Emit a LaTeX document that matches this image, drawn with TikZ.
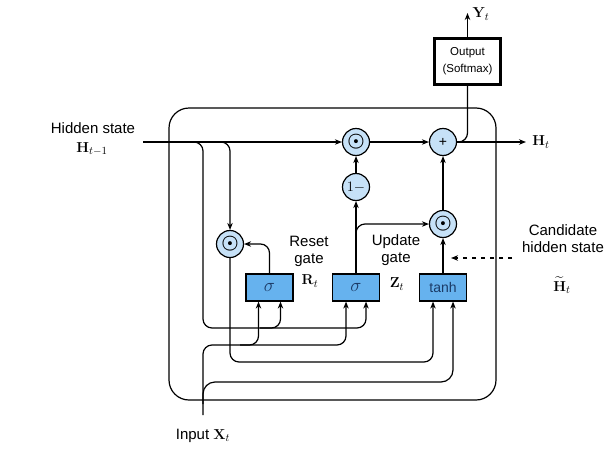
\documentclass[tikz,border=0pt]{standalone}
\usepackage{amsmath,amssymb}
\usepackage{graphicx}
\usepackage[no-math]{fontspec}
\setmainfont{Liberation Sans}
\usepackage{tikz}
\usetikzlibrary{arrows.meta,calc,positioning}
\definecolor{gatefill}{HTML}{66B2EE}
\definecolor{opfill}{HTML}{C6E1F7}
\definecolor{gatetext}{HTML}{1B3A66}
\newcommand{\dotop}{\scalebox{1.35}{$\boldsymbol{\odot}$}}
\newcommand{\sig}{\scalebox{1.3}{$\sigma$}}

\begin{document}
\begin{tikzpicture}[x=1pt, y=-1pt, line width=1.2pt,
  >={Stealth[length=7pt,width=5.5pt]},
  gatebox/.style={rectangle, draw, fill=gatefill, minimum width=47pt, minimum height=27pt, inner sep=0pt, font=\fontsize{14}{16}\selectfont, text=gatetext},
  opcirc/.style={circle, draw, fill=opfill, minimum size=27pt, inner sep=0pt, font=\fontsize{14}{16}\selectfont},
  lbl/.style={font=\fontsize{15}{17}\selectfont, align=center},
  vec/.style={font=\fontsize{15}{17}\selectfont}]
  \useasboundingbox (0,0) rectangle (610,450);
  \draw[rounded corners=20] (169,108) rectangle (496,400);

  % operators
  \node [opcirc] (rmul) at (230,244) {\dotop};
  \node [opcirc] (hmul) at (356,142) {\dotop};
  \node [opcirc] (omz) at (356,187) {$1-$};
  \node [opcirc] (zmul) at (443,224) {\dotop};
  \node [opcirc] (hadd) at (443,142) {+};
  % gates
  \node [gatebox] (rgate) at (269.5,287.5) {\sig};
  \node [gatebox] (zgate) at (356,287.5) {\sig};
  \node [gatebox] (cand) at (443,287.5) {tanh};
  \node [draw, line width=3pt, minimum width=66pt, minimum height=46pt, inner sep=0pt, align=center, font=\fontsize{11.5}{17}\selectfont] (outbox) at (467.5,61.5) {Output\\(Softmax)};

  % free ends
  \coordinate (hin) at (143,142);
  \coordinate (hout) at (526,142);
  \coordinate (xin) at (203,415);
  \coordinate (yout) at (467.5,13);
  \coordinate (cstart) at (512,258);
  \coordinate (cdash) at (451,258);

  \draw[->] (hin) -- (hmul);
  \draw[->, rounded corners=9] (188,142) -| (203,328) -| ([xshift=10]zgate.south);
  \draw[->, rounded corners=9] (260,328) -| ([xshift=11]rgate.south);
  \draw[->, rounded corners=9] (214,142) -| (rmul);
  \draw[->, rounded corners=9] (rmul) |- (300,362) -| ([xshift=-10]cand.south);
  \draw[->, rounded corners=9] (xin) |- (300,345) -| ([xshift=-10]zgate.south);
  \draw[->, rounded corners=9] (240,345) -| ([xshift=-11]rgate.south);
  \draw[->, rounded corners=12] (203,404) |- (300,382) -| ([xshift=10]cand.south);
  \draw[->, rounded corners=9] (rgate) |- (rmul);
  \draw[->] (zgate) -- (omz);
  \draw[->, rounded corners=9] (356,250) |- (zmul);
  \draw[->] (omz) -- (hmul);
  \draw[->] (hmul) -- (hadd);
  \draw[->] (cand) -- (zmul);
  \draw[->] (zmul) -- (hadd);
  \draw[->] (hadd) -- (hout);
  \draw[rounded corners=9] (hadd) -| (outbox);
  \draw[->] (outbox) -- (yout);
  \draw[->, dash pattern=on 4pt off 5pt] (cstart) -- (cdash);

  % labels
  \node [lbl] (hlbl) at (93,128) {Hidden state};
  \node [vec] (hprev) at (92,149) {$\mathbf{H}_{t-1}$};
  \node [lbl] (xlbl) at (203,436) {Input $\mathbf{X}_t$};
  \node [lbl] (rlbl) at (309,251) {Reset\\gate};
  \node [vec] (rt) at (310,281) {$\mathbf{R}_t$};
  \node [lbl] (zlbl) at (396,250) {Update\\gate};
  \node [vec] (zt) at (397,284) {$\mathbf{Z}_t$};
  \node [lbl] (clbl) at (563,239) {Candidate\\hidden state};
  \node [vec] (ct) at (562,285) {$\widetilde{\mathbf{H}}_t$};
  \node [vec] (ht) at (541,142) {$\mathbf{H}_t$};
  \node [vec] (yt) at (481,14) {$\mathbf{Y}_t$};
\end{tikzpicture}
\end{document}
